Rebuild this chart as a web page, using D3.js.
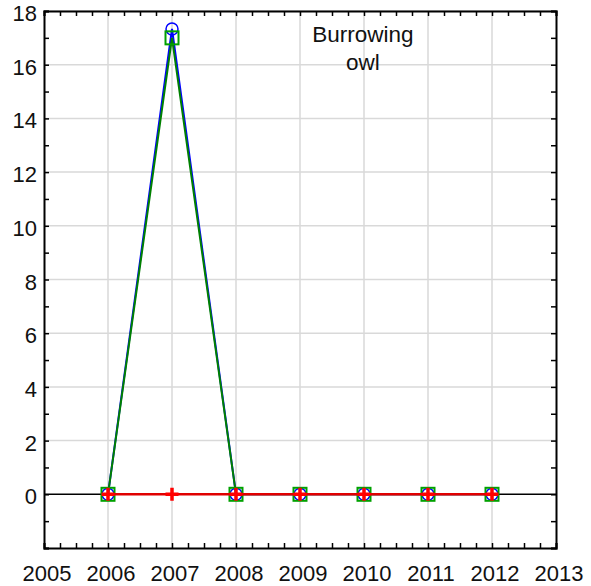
<!DOCTYPE html>
<html><head><meta charset="utf-8">
<script src="https://cdn.jsdelivr.net/npm/d3@7"></script>
<style>body{margin:0;background:#fff}text{font-family:"Liberation Sans",Arial,sans-serif}</style>
</head><body>
<svg id="c" width="591" height="586"></svg>
<script>
const years = [2006, 2007, 2008, 2009, 2010, 2011, 2012];
const blueCircles = [0, 17.33, 0, 0, 0, 0, 0];
const greenSquares = [0, 17.0, 0, 0, 0, 0, 0];
const redPlus = [0, 0, 0, 0, 0, 0, 0];
const xTicks = [2005, 2006, 2007, 2008, 2009, 2010, 2011, 2012, 2013];
const yTicks = [0, 2, 4, 6, 8, 10, 12, 14, 16, 18];
const title = ["Burrowing", "owl"];

(function () {
const svg = d3.select("#c");
const L = 44, R = 556, T = 11, B = 548;
const x = d3.scaleLinear().domain([2005, 2013]).range([L, R]);
const y = d3.scaleLinear().domain([-2, 18]).range([B, T]);

// grid
const g = svg.append("g");
g.selectAll(".vg").data(xTicks.slice(1, -1)).enter().append("line")
  .attr("x1", d => x(d)).attr("x2", d => x(d)).attr("y1", T).attr("y2", B)
  .attr("stroke", "#d9d9d9").attr("stroke-width", 1.5);
g.selectAll(".hg").data(yTicks.slice(1)).enter().append("line")
  .attr("x1", L).attr("x2", R).attr("y1", d => y(d)).attr("y2", d => y(d))
  .attr("stroke", "#d9d9d9").attr("stroke-width", 1.5);

// zero line
svg.append("line").attr("x1", L).attr("x2", R).attr("y1", y(0)).attr("y2", y(0))
  .attr("stroke", "#000").attr("stroke-width", 1.5);

// axes
const minorX = d3.range(2005, 2013.001, 0.25);
const minorY = d3.range(-2, 18.001, 1);
const axB = d3.axisBottom(x).tickValues(minorX).tickSize(-5).tickFormat("");
const axT = d3.axisTop(x).tickValues(minorX).tickSize(-5).tickFormat("");
const axL = d3.axisLeft(y).tickValues(minorY).tickSize(-5).tickFormat("");
const axR = d3.axisRight(y).tickValues(minorY).tickSize(-5).tickFormat("");
[[axB, `translate(0,${B})`], [axT, `translate(0,${T})`], [axL, `translate(${L},0)`], [axR, `translate(${R},0)`]].forEach(([a, t]) => {
  const ax = svg.append("g").attr("transform", t).call(a);
  ax.select(".domain").attr("stroke", "#000").attr("stroke-width", 2);
  ax.selectAll(".tick line").attr("stroke", "#000").attr("stroke-width", 1.5);
});

// tick labels
svg.selectAll(".xl").data(xTicks).enter().append("text")
  .attr("x", d => x(d) + 3).attr("y", 581).attr("text-anchor", "middle")
  .attr("font-size", 22).attr("fill", "#111").text(d => d);
svg.selectAll(".yl").data(yTicks).enter().append("text")
  .attr("x", 37).attr("y", d => y(d) + 10).attr("text-anchor", "end")
  .attr("font-size", 22).attr("fill", "#111").text(d => d);

// series lines
const line = vals => d3.line().x((d, i) => x(years[i])).y(d => y(d))(vals);
svg.append("path").attr("d", line(blueCircles)).attr("fill", "none").attr("stroke", "#0000ff").attr("stroke-width", 2);
svg.append("path").attr("d", line(greenSquares)).attr("fill", "none").attr("stroke", "#008000").attr("stroke-width", 2);

// markers blue circles
svg.selectAll(".bc").data(blueCircles).enter().append("circle")
  .attr("cx", (d, i) => x(years[i])).attr("cy", d => y(d)).attr("r", 6)
  .attr("fill", "none").attr("stroke", "#0000ff").attr("stroke-width", 1.5);
// green squares
svg.selectAll(".gs").data(greenSquares).enter().append("rect")
  .attr("x", (d, i) => x(years[i]) - 6.5).attr("y", d => y(d) - 6.5)
  .attr("width", 13).attr("height", 13)
  .attr("fill", "none").attr("stroke", "#00a000").attr("stroke-width", 2);

// red line + plus
svg.append("path").attr("d", line(redPlus)).attr("fill", "none").attr("stroke", "#e00000").attr("stroke-width", 2.5);
svg.selectAll(".rp").data(redPlus).enter().append("path")
  .attr("d", (d, i) => { const cx = x(years[i]), cy = y(d); return `M${cx-6.5},${cy}H${cx+6.5}M${cx},${cy-6.5}V${cy+6.5}`; })
  .attr("stroke", "#ff0000").attr("stroke-width", 3.5).attr("fill", "none");

// title
svg.selectAll(".tt").data(title).enter().append("text")
  .attr("x", 363).attr("y", (d, i) => 41.5 + i * 28.5).attr("text-anchor", "middle")
  .attr("font-size", 22.5).attr("fill", "#111").text(d => d);
})();
</script>
</body></html>
